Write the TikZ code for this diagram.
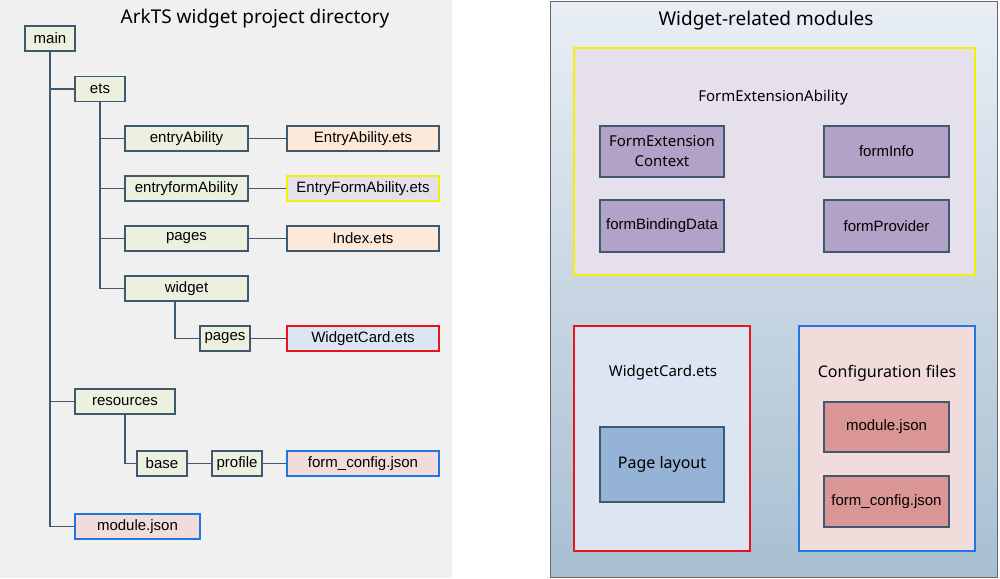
\documentclass[tikz,border=0pt]{standalone}
\usepackage{fontspec}
\setmainfont{Liberation Sans}
\newfontfamily\titlefont{Noto Sans}
\definecolor{dirc}{HTML}{EBF1DE}
\definecolor{filec}{HTML}{FDE9D9}
\definecolor{linec}{HTML}{3F5A6E}
\definecolor{purp}{HTML}{B3A2C7}
\definecolor{pinkd}{HTML}{D99694}
\definecolor{plc}{HTML}{95B3D7}
\definecolor{yfill}{HTML}{E5E0EC}
\definecolor{rfill}{HTML}{DCE6F2}
\definecolor{bfill}{HTML}{F2DCDB}
\definecolor{ybord}{HTML}{F2F200}
\definecolor{rbord}{HTML}{E8141C}
\definecolor{bbord}{HTML}{1F78E0}
\definecolor{gtop}{HTML}{E9EEF5}
\definecolor{gbot}{HTML}{A8BFD1}
\begin{document}
\begin{tikzpicture}[x=1pt,y=-1pt,
  dir/.style={draw=linec,line width=1.2pt,fill=dirc,minimum height=25pt,inner sep=0pt,font=\fontsize{15}{17}\selectfont},
  file/.style={dir,fill=filec},
  mod/.style={draw=linec,line width=1.2pt,fill=purp,inner sep=0pt,font=\fontsize{15}{17}\selectfont,align=center},
  cfg/.style={mod,fill=pinkd},
  tl/.style={draw=linec,line width=1.2pt}]
\useasboundingbox (0,0) rectangle (1000,578);
\fill[gray!12] (0,0) rectangle (452,578);
\shade[top color=gtop, bottom color=gbot, draw=gray!80!black, line width=1pt] (550,2) rectangle (997,577);
\node[font=\titlefont\fontsize{19}{21}\selectfont] (t1) at (255,19) {ArkTS widget project directory};
\node[font=\titlefont\fontsize{19}{21}\selectfont] (t2) at (766,21) {Widget-related modules};
% left tree
\node[dir,minimum width=50pt] (main) at (50,38.5) {main};
\node[dir,minimum width=50pt] (ets) at (100,89) {ets};
\node[dir,minimum width=123pt] (ea) at (186.5,138.5) {entryAbility};
\node[file,minimum width=152pt] (eaf) at (363,138.5) {EntryAbility.ets};
\node[dir,minimum width=123pt] (efa) at (186.5,188.5) {entryformAbility};
\node[file,minimum width=152pt,fill=yfill,draw=ybord,line width=2.2pt] (efaf) at (363,188.5) {EntryFormAbility.ets};
\node[dir,minimum width=123pt] (pg) at (186.5,238.5) {pages};
\node[file,minimum width=152pt] (idx) at (363,238.5) {Index.ets};
\node[dir,minimum width=123pt] (wg) at (186.5,288.5) {widget};
\node[dir,minimum width=50pt] (wpg) at (225,338.5) {pages};
\node[file,minimum width=152pt,fill=rfill,draw=rbord,line width=2.2pt] (wc) at (363,338.5) {WidgetCard.ets};
\node[dir,minimum width=100pt] (res) at (125,401.5) {resources};
\node[dir,minimum width=50pt] (base) at (162,463.5) {base};
\node[dir,minimum width=50pt] (prof) at (237,463.5) {profile};
\node[file,minimum width=152pt,fill=bfill,draw=bbord,line width=2.2pt] (fc) at (363,463.5) {form\_config.json};
\node[file,minimum width=125pt,fill=bfill,draw=bbord,line width=2.2pt] (mj) at (137.5,526.5) {module.json};
\draw[tl] (main.south) |- (mj.west);
\draw[tl] (main.south |- ets.west) -- (ets.west);
\draw[tl] (main.south |- res.west) -- (res.west);
\draw[tl] (ets.south) |- (wg.west);
\draw[tl] (ets.south |- ea.west) -- (ea.west);
\draw[tl] (ets.south |- efa.west) -- (efa.west);
\draw[tl] (ets.south |- pg.west) -- (pg.west);
\draw[tl] (ea) -- (eaf);
\draw[tl] (efa) -- (efaf);
\draw[tl] (pg) -- (idx);
\draw[tl] ([xshift=-11.5pt]wg.south) |- (wpg.west);
\draw[tl] (wpg) -- (wc);
\draw[tl] (res.south) |- (base.west);
\draw[tl] (base) -- (prof);
\draw[tl] (prof) -- (fc);
% right
\draw[draw=ybord,line width=2.5pt,fill=yfill] (574,48) rectangle (975,275);
\node[font=\titlefont\fontsize{15}{17}\selectfont] (fea) at (773,98) {FormExtensionAbility};
\node[mod,minimum width=124pt,minimum height=51pt,font=\titlefont\fontsize{15}{17}\selectfont] (fec) at (662,151.5) {FormExtension\\[3pt]Context};
\node[mod,minimum width=125pt,minimum height=51pt] (fi) at (886.5,151.5) {formInfo};
\node[mod,minimum width=124pt,minimum height=52pt] (fbd) at (662,226) {formBindingData};
\node[mod,minimum width=125pt,minimum height=52pt] (fp) at (886.5,226) {formProvider};
\draw[draw=rbord,line width=2.5pt,fill=rfill] (574,326) rectangle (750,551);
\node[font=\titlefont\fontsize{15}{17}\selectfont] (wct) at (663,373) {WidgetCard.ets};
\node[mod,fill=plc,minimum width=124pt,minimum height=75pt,font=\titlefont\fontsize{16}{18}\selectfont] (pl) at (662,464.5) {Page layout};
\draw[draw=bbord,line width=2.5pt,fill=bfill] (799,326) rectangle (975,551);
\node[font=\titlefont\fontsize{16}{18}\selectfont] (cf) at (887,373) {Configuration files};
\node[cfg,minimum width=125pt,minimum height=50pt] (mj2) at (886.5,427) {module.json};
\node[cfg,minimum width=125pt,minimum height=51pt] (fc2) at (886.5,501.5) {form\_config.json};
\end{tikzpicture}
\end{document}
